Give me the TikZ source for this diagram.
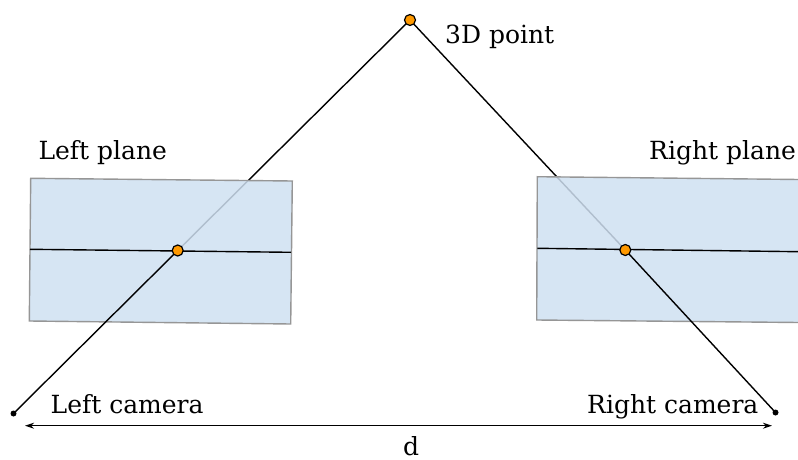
\documentclass[tikz,border=0pt]{standalone}
\usepackage{fontspec}
\setmainfont{DejaVu Serif}
\definecolor{planeblue}{RGB}{207,224,241}
\definecolor{planeedge}{RGB}{150,150,150}
\definecolor{pointorange}{RGB}{255,153,0}
\usetikzlibrary{arrows.meta}

\begin{document}
\begin{tikzpicture}[x=1pt, y=-1pt, >={Stealth[length=9pt, width=6pt]},
    plane/.style={draw=planeedge, fill=planeblue, fill opacity=0.85, line width=1.4pt},
    ray/.style={draw=black, line width=1.4pt},
    hit/.style={circle, draw=black, fill=pointorange, inner sep=0pt, minimum size=11pt, line width=1.2pt},
    cam/.style={circle, fill=black, inner sep=0pt, minimum size=6pt},
    lbl/.style={anchor=base west, font=\fontsize{25}{30}\selectfont, inner sep=0pt}]
  \useasboundingbox (0,0) rectangle (798,460);

  % geometry
  \coordinate (top) at (410,20);
  \coordinate (lhit) at (177.7,250.5);
  \coordinate (rhit) at (625.3,250);
  \coordinate (lcampos) at (13.5,413.5);
  \coordinate (rcampos) at (775.5,412.5);

  % rays behind the planes
  \draw[ray] (top) -- (lhit);
  \draw[ray] (top) -- (rhit);

  % image planes
  \path[plane] (30.7,178.3) -- (292.3,181) -- (290.7,324) -- (29.3,321) -- cycle;
  \path[plane] (537.3,176.7) -- (799,179.5) -- (799,322.5) -- (536.7,320) -- cycle;
  \draw[ray] (30,249.3) -- (291,252.3);
  \draw[ray] (537.3,248.3) -- (799,251.7);

  % rays in front
  \draw[ray] (lhit) -- (lcampos);
  \draw[ray] (rhit) -- (rcampos);

  % points
  \node (point) [hit] at (top) {};
  \node (lproj) [hit] at (lhit) {};
  \node (rproj) [hit] at (rhit) {};
  \node (lcam) [cam] at (lcampos) {};
  \node (rcam) [cam] at (rcampos) {};

  % labels
  \node (pointlbl) [lbl] at (445,44) {3D point};
  \node (lplanelbl) [lbl] at (38.3,159.3) {Left plane};
  \node (rplanelbl) [lbl] at (649,159.3) {Right plane};
  \node (lcamlbl) [lbl] at (50.5,413.3) {Left camera};
  \node (rcamlbl) [lbl] at (587,413.3) {Right camera};

  % baseline
  \coordinate (dleft) at (25,425.7);
  \coordinate (dright) at (772,425.7);
  \draw[<->, line width=1.4pt] (dleft) -- (dright);
  \node (dlbl) [lbl, anchor=base] at (411,455.5) {d};
\end{tikzpicture}
\end{document}
